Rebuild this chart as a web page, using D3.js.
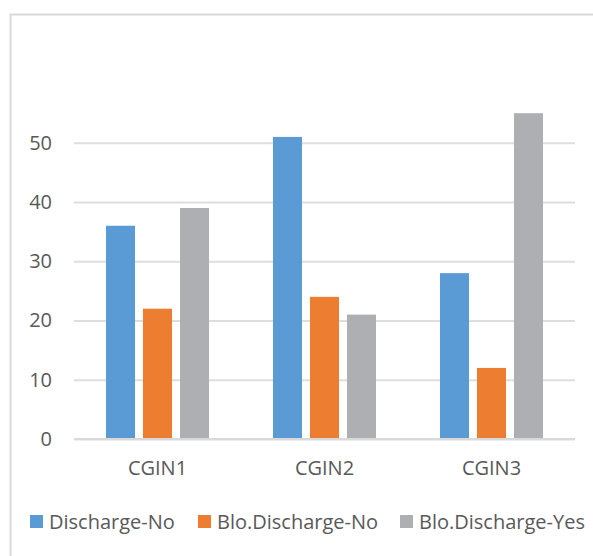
<html>
<head>
<meta charset="utf-8">
<script src="https://d3js.org/d3.v7.min.js"></script>
<style>
  body { margin: 0; padding: 0; background: #fff; overflow: hidden; }
  svg text { font-family: 'Open Sans', sans-serif; fill: #595959; }
</style>
</head>
<body>
<svg id="chart"></svg>
<script>
var width = 593, height = 556;

var categories = ["CGIN1", "CGIN2", "CGIN3"];
var seriesNames = ["Discharge-No", "Blo.Discharge-No", "Blo.Discharge-Yes"];
var dischargeNo = [36, 51, 28];
var bloDischargeNo = [22, 24, 12];
var bloDischargeYes = [39, 21, 55];
var yTicks = [0, 10, 20, 30, 40, 50];
var colors = ["#5B9BD5", "#ED7D31", "#AEAFB2"];

var seriesValues = [dischargeNo, bloDischargeNo, bloDischargeYes];

var svg = d3.select("#chart").attr("width", width).attr("height", height);

// outer chart frame (cut off at right and bottom like the picture)
svg.append("rect")
  .attr("x", 10.5).attr("y", 14.5)
  .attr("width", width + 20).attr("height", height + 20)
  .attr("fill", "none").attr("stroke", "#D9D9D9").attr("stroke-width", 2);

var x0 = d3.scaleBand().domain(categories).range([74, 575])
  .paddingInner(0.383).paddingOuter(0.1915);
var x1 = d3.scaleBand().domain(seriesNames).range([0, x0.bandwidth()])
  .paddingInner(0.216).paddingOuter(0);
var y = d3.scaleLinear().domain([0, 60]).range([439, 83.6]);

// gridlines + y labels
var yAxis = d3.axisLeft(y).tickValues(yTicks).tickSize(-(575 - 74)).tickPadding(22);
var yg = svg.append("g").attr("transform", "translate(74,0)").call(yAxis);
yg.select(".domain").remove();
yg.selectAll(".tick line").attr("stroke", "#DEDEDE").attr("stroke-width", 2);
yg.selectAll(".tick text").attr("font-size", 20).style("fill", "#595959")
  .attr("font-family", "'Open Sans', sans-serif");

// bars
var groups = svg.append("g").selectAll("g")
  .data(categories).join("g")
  .attr("transform", function(d) { return "translate(" + x0(d) + ",0)"; });

groups.selectAll("rect")
  .data(function(d, i) {
    return seriesNames.map(function(s, k) { return { s: s, v: seriesValues[k][i], k: k }; });
  })
  .join("rect")
  .attr("x", function(d) { return x1(d.s); })
  .attr("width", x1.bandwidth())
  .attr("y", function(d) { return y(d.v); })
  .attr("height", function(d) { return y(0) - y(d.v); })
  .attr("fill", function(d) { return colors[d.k]; });

// baseline axis
var xAxis = d3.axisBottom(x0).tickSize(0).tickPadding(22);
var xg = svg.append("g").attr("transform", "translate(0," + y(0) + ")").call(xAxis);
xg.select(".domain").attr("stroke", "#D9D9D9").attr("stroke-width", 2)
  .attr("d", "M74,0H575");
xg.selectAll(".tick text").attr("font-size", 20).style("fill", "#595959")
  .attr("font-family", "'Open Sans', sans-serif");

// legend
var legendX = [30, 198, 400];
var legend = svg.append("g").selectAll("g")
  .data(seriesNames).join("g")
  .attr("transform", function(d, i) { return "translate(" + legendX[i] + ",515)"; });
legend.append("rect").attr("width", 13).attr("height", 13)
  .attr("fill", function(d, i) { return colors[i]; });
legend.append("text").attr("x", 19).attr("y", 14)
  .attr("font-size", 20).text(function(d) { return d; });
</script>
</body>
</html>
